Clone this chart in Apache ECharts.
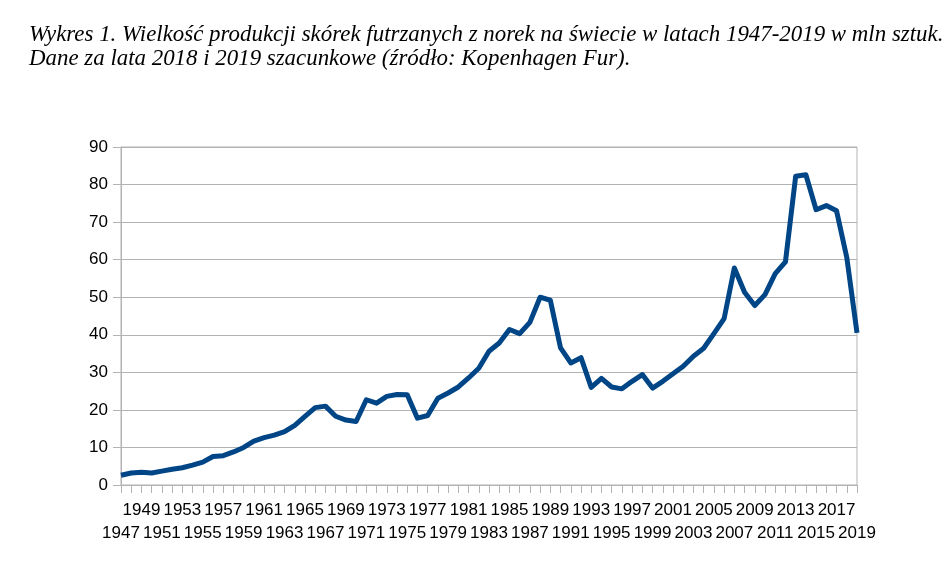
<!DOCTYPE html>
<html>
<head>
<meta charset="utf-8">
<script src="https://cdn.jsdelivr.net/npm/echarts@6/dist/echarts.min.js"></script>
<style>html,body{margin:0;padding:0;background:#fff;}#c{width:945px;height:572px;}</style>
</head>
<body>
<div id="c"></div>
<script>
const years = [];
for (let y = 1947; y <= 2019; y++) years.push(String(y));
const production = [
  2.6, 3.2, 3.4, 3.2, 3.7, 4.2, 4.6, 5.3, 6.1, 7.6,
  7.8, 8.8, 10.0, 11.7, 12.6, 13.3, 14.2, 15.9, 18.3, 20.6,
  21.0, 18.3, 17.3, 16.9, 22.7, 21.8, 23.6, 24.1, 24.0, 17.8,
  18.5, 23.1, 24.5, 26.1, 28.5, 31.1, 35.6, 37.8, 41.4, 40.3,
  43.3, 50.0, 49.2, 36.5, 32.5, 33.9, 26.0, 28.4, 26.1, 25.6,
  27.6, 29.4, 25.8, 27.6, 29.6, 31.6, 34.3, 36.4, 40.3, 44.3,
  57.8, 51.3, 47.8, 50.7, 56.3, 59.4, 82.2, 82.6, 73.3, 74.4,
  73.0, 60.6, 40.5
];
const yTicks = { min: 0, max: 90, interval: 10 };
const titleLines = [
  'Wykres 1. Wielkość produkcji skórek futrzanych z norek na świecie w latach 1947-2019 w mln sztuk.',
  'Dane za lata 2018 i 2019 szacunkowe (źródło: Kopenhagen Fur).'
];

const chart = echarts.init(document.getElementById('c'), null, { renderer: 'canvas' });
const gray = '#b3b3b3';
const labelFont = {
  fontFamily: '"Liberation Sans", Arial, sans-serif',
  fontSize: 17, color: '#000'
};
chart.setOption({
  animation: false,
  backgroundColor: '#ffffff',
  title: {
    text: titleLines.join('\n'),
    left: 29, top: 23, padding: 0,
    textStyle: {
      fontFamily: '"Liberation Serif", "DejaVu Serif", serif',
      fontStyle: 'italic', fontWeight: 'normal',
      fontSize: 22.9, lineHeight: 24, color: '#000'
    }
  },
  grid: {
    left: 121, right: 88, top: 147, bottom: 87,
    show: true, borderColor: gray, borderWidth: 1, backgroundColor: 'transparent'
  },
  xAxis: [{
    type: 'category',
    data: years,
    boundaryGap: false,
    position: 'bottom',
    axisLine: { show: true, lineStyle: { color: gray, width: 1 } },
    axisTick: { show: true, interval: 0, length: 8, lineStyle: { color: gray } },
    splitLine: { show: false },
    axisLabel: Object.assign({
      interval: function (i) { return i % 4 === 2; },
      showMinLabel: true,
      showMaxLabel: true,
      margin: 17
    }, labelFont)
  }, {
    type: 'category',
    data: years,
    boundaryGap: false,
    position: 'bottom',
    axisLine: { show: false },
    axisTick: { show: false },
    splitLine: { show: false },
    axisLabel: Object.assign({
      interval: function (i) { return i % 4 === 0; },
      showMinLabel: true,
      showMaxLabel: true,
      margin: 40
    }, labelFont)
  }],
  yAxis: {
    type: 'value',
    min: yTicks.min, max: yTicks.max, interval: yTicks.interval,
    axisLine: { show: true, lineStyle: { color: gray, width: 1 } },
    axisTick: { show: true, length: 8, lineStyle: { color: gray } },
    splitLine: { show: true, lineStyle: { color: gray, width: 1 } },
    axisLabel: Object.assign({ margin: 13 }, labelFont)
  },
  series: [{
    type: 'line',
    xAxisIndex: 0,
    data: production,
    showSymbol: false,
    symbol: 'none',
    lineStyle: { color: '#004586', width: 5, join: 'round', cap: 'butt' },
    itemStyle: { color: '#004586' }
  }]
});
</script>
</body>
</html>
